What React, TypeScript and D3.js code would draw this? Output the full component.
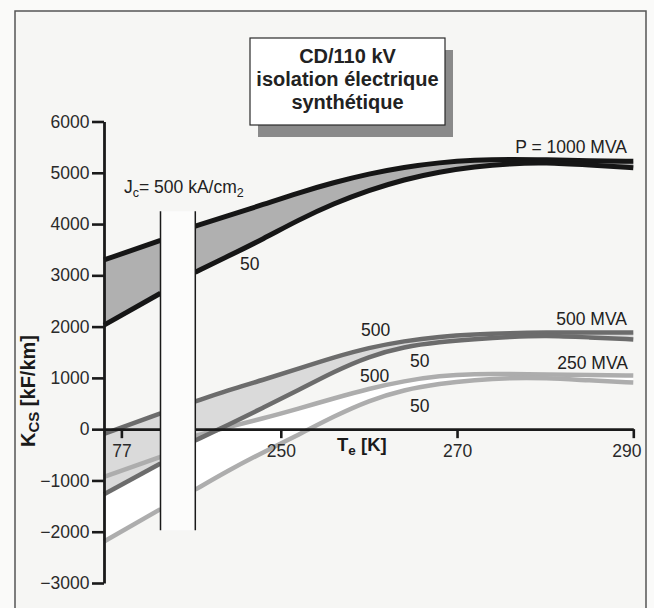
import React, { useRef, useEffect } from "react";
import * as d3 from "d3";

// temperatures (K) on each side of the axis break
const leftTemps = [75, 81.5];
const rightTemps = [240.3, 244, 248, 252, 256, 260, 264, 268, 272, 276, 280, 285, 290];

const xTicks = [77, 250, 270, 290];
const yTicks = [-3000, -2000, -1000, 0, 1000, 2000, 3000, 4000, 5000, 6000];

// K_CS [kF/km], P = 1000 MVA
const p1000Jc500Left = [3300, 3680];
const p1000Jc50Left = [2030, 2650];
const p1000Jc500 = [3960, 4160, 4380, 4610, 4810, 4980, 5110, 5200, 5250, 5265, 5255, 5235, 5225];
const p1000Jc50 = [3060, 3370, 3710, 4080, 4400, 4660, 4870, 5020, 5120, 5180, 5200, 5150, 5100];

// P = 500 MVA
const p500Jc500Left = [-90, 310];
const p500Jc50Left = [-1270, -670];
const p500Jc500 = [540, 760, 960, 1180, 1400, 1590, 1720, 1805, 1850, 1875, 1885, 1885, 1885];
const p500Jc50 = [-220, 80, 420, 760, 1120, 1420, 1610, 1700, 1755, 1800, 1830, 1790, 1750];

// P = 250 MVA
const p250Jc500Left = [-930, -540];
const p250Jc50Left = [-2190, -1560];
const p250Jc500 = [-130, 40, 210, 400, 600, 790, 940, 1040, 1080, 1075, 1065, 1055, 1045];
const p250Jc50 = [-1180, -810, -450, -110, 250, 560, 770, 890, 960, 1000, 1000, 950, 910];

const FONT = "'Liberation Sans', Arial, Helvetica, sans-serif";

export default function App() {
  const svgRef = useRef<SVGSVGElement>(null);

  useEffect(() => {
    const svg = d3.select(svgRef.current);
    svg.selectAll("*").remove();

    const width = 654;
    const height = 608;

    // broken axis: a short piece around 77 K, then 240-290 K
    const x = d3
      .scaleLinear()
      .domain([75, 81.5, 240.3, 290])
      .range([104, 160.5, 195.3, 633.3]);
    const y = d3.scaleLinear().domain([-3000, 6000]).range([583, 121.5]);

    // paper + frame
    svg.append("rect").attr("width", width).attr("height", height).attr("fill", "#fafaf9");
    svg
      .append("rect")
      .attr("x", 15)
      .attr("y", 11)
      .attr("width", 631)
      .attr("height", 640)
      .attr("fill", "#f6f6f4")
      .attr("stroke", "#555")
      .attr("stroke-width", 1.5);

    // title box with drop shadow
    svg.append("rect").attr("x", 258).attr("y", 50).attr("width", 195).attr("height", 87).attr("fill", "#8a8a8a");
    svg
      .append("rect")
      .attr("x", 250)
      .attr("y", 38)
      .attr("width", 195)
      .attr("height", 87)
      .attr("fill", "#ffffff")
      .attr("stroke", "#2a2a2a")
      .attr("stroke-width", 1.2);
    const title = svg
      .append("text")
      .attr("text-anchor", "middle")
      .attr("font-family", FONT)
      .attr("font-weight", "bold")
      .attr("font-size", 20)
      .attr("fill", "#222");
    ["CD/110 kV", "isolation électrique", "synthétique"].forEach((t, i) =>
      title.append("tspan").attr("x", 347.5).attr("y", 63 + i * 23).text(t)
    );

    const groups = [
      { hi: p250Jc500, lo: p250Jc50, hiL: p250Jc500Left, loL: p250Jc50Left, stroke: "#adadad", fill: "#ffffff", w: 4.5 },
      { hi: p500Jc500, lo: p500Jc50, hiL: p500Jc500Left, loL: p500Jc50Left, stroke: "#6c6c6c", fill: "#dadada", w: 4.5 },
      { hi: p1000Jc500, lo: p1000Jc50, hiL: p1000Jc500Left, loL: p1000Jc50Left, stroke: "#161616", fill: "#b0b0b0", w: 5 },
    ];

    const area = d3
      .area<[number, number, number]>()
      .x((d) => x(d[0]))
      .y0((d) => y(d[2]))
      .y1((d) => y(d[1]))
      .curve(d3.curveBasis);
    const line = d3
      .line<[number, number]>()
      .x((d) => x(d[0]))
      .y((d) => y(d[1]))
      .curve(d3.curveBasis);

    const segs = (g: any) => [
      { t: leftTemps, hi: g.hiL, lo: g.loL },
      { t: rightTemps, hi: g.hi, lo: g.lo },
    ];

    const plot = svg.append("g");
    groups.forEach((g) => {
      segs(g).forEach((s) => {
        plot
          .append("path")
          .attr("d", area(s.t.map((t: number, i: number) => [t, s.hi[i], s.lo[i]])))
          .attr("fill", g.fill);
      });
    });
    groups.forEach((g) => {
      segs(g).forEach((s) => {
        [s.hi, s.lo].forEach((vals: number[]) => {
          plot
            .append("path")
            .attr("d", line(s.t.map((t: number, i: number) => [t, vals[i]])))
            .attr("fill", "none")
            .attr("stroke", g.stroke)
            .attr("stroke-width", g.w);
        });
      });
    });

    // axes
    const xAxis = svg
      .append("g")
      .attr("transform", `translate(0,${y(0)})`)
      .call(d3.axisBottom(x).tickValues(xTicks).tickSize(9).tickSizeOuter(0).tickPadding(6).tickFormat(d3.format("d")));
    const yAxis = svg
      .append("g")
      .attr("transform", `translate(${x(75)},0)`)
      .call(d3.axisLeft(y).tickValues(yTicks).tickSize(12).tickSizeOuter(0).tickPadding(2.5).tickFormat(d3.format("d")));
    [xAxis, yAxis].forEach((a) => {
      a.attr("font-family", FONT).attr("font-size", 17.5);
      a.select(".domain").attr("stroke", "#1a1a1a").attr("stroke-width", 2.8);
      a.selectAll(".tick line").attr("stroke", "#1a1a1a").attr("stroke-width", 2.6);
      a.selectAll(".tick text").attr("fill", "#2a2a2a");
    });
    xAxis
      .selectAll<SVGTextElement, number>(".tick text")
      .filter((d) => d === 290)
      .attr("dx", -7);

    // axis break
    const brk = svg.append("g");
    brk
      .append("rect")
      .attr("x", x(81.5))
      .attr("y", y(4250))
      .attr("width", x(240.3) - x(81.5))
      .attr("height", y(-1970) - y(4250))
      .attr("fill", "#fcfcfb");
    [81.5, 240.3].forEach((t) =>
      brk
        .append("line")
        .attr("x1", x(t))
        .attr("x2", x(t))
        .attr("y1", y(4250))
        .attr("y2", y(-1970))
        .attr("stroke", "#1a1a1a")
        .attr("stroke-width", 1.5)
    );

    // axis titles
    const yl = svg
      .append("text")
      .attr("transform", "translate(35,391) rotate(-90)")
      .attr("text-anchor", "middle")
      .attr("font-family", FONT)
      .attr("font-weight", "bold")
      .attr("font-size", 20)
      .attr("fill", "#1a1a1a");
    yl.append("tspan").text("K");
    yl.append("tspan").attr("font-size", 15).attr("dy", 4).text("CS");
    yl.append("tspan").attr("dy", -4).text(" [kF/km]");

    const xl = svg
      .append("text")
      .attr("x", 337)
      .attr("y", 451)
      .attr("font-family", FONT)
      .attr("font-weight", "bold")
      .attr("font-size", 18.5)
      .attr("fill", "#1a1a1a");
    xl.append("tspan").text("T");
    xl.append("tspan").attr("font-size", 13.5).attr("dy", 4).text("e");
    xl.append("tspan").attr("dy", -4).text(" [K]");

    // annotations
    const lab = (tx: number, ty: number, s: string, anchor = "start") =>
      svg
        .append("text")
        .attr("x", tx)
        .attr("y", ty)
        .attr("text-anchor", anchor)
        .attr("font-family", FONT)
        .attr("font-size", 17.5)
        .attr("fill", "#222")
        .text(s);

    lab(627, 153, "P = 1000 MVA", "end");
    lab(627, 325, "500 MVA", "end");
    lab(628, 369, "250 MVA", "end");
    lab(240, 270, "50");
    lab(361, 336, "500");
    lab(410, 367, "50");
    lab(360, 382, "500");
    lab(410, 412, "50");

    const jc = svg
      .append("text")
      .attr("x", 124)
      .attr("y", 193)
      .attr("font-family", FONT)
      .attr("font-size", 17.5)
      .attr("fill", "#222");
    jc.append("tspan").text("J");
    jc.append("tspan").attr("font-size", 12.5).attr("dy", 4).text("c");
    jc.append("tspan").attr("dy", -4).text("= 500 kA/cm");
    jc.append("tspan").attr("font-size", 12.5).attr("dy", 4).text("2");
  }, []);

  return (
    <svg
      ref={svgRef}
      width={654}
      height={608}
      style={{ position: "absolute", left: 0, top: 0, display: "block" }}
    />
  );
}
